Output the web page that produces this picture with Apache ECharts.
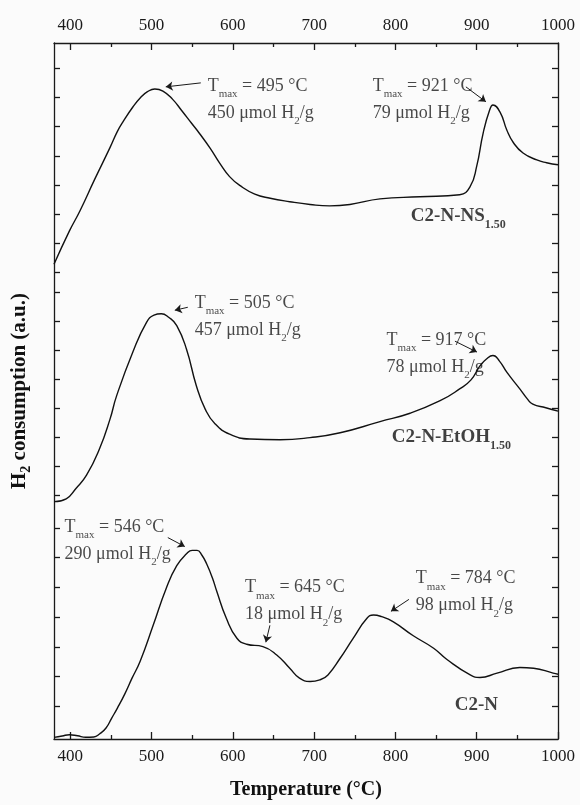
<!DOCTYPE html>
<html>
<head>
<meta charset="utf-8">
<script src="https://cdn.jsdelivr.net/npm/echarts@6/dist/echarts.min.js"></script>
<style>
html,body{margin:0;padding:0;background:#fbfbfb;}
#chart{width:580px;height:805px;}
</style>
</head>
<body>
<div id="chart"></div>
<script>
// ---- data ----
const tNS = [380, 399, 412, 430, 449, 458, 465, 477, 486, 495, 504, 514, 526, 537, 549, 559, 572, 584, 596, 609, 627, 646, 670, 695, 719, 744, 781, 830, 879, 892, 900, 908, 916, 920, 929, 937, 945, 957, 974, 986, 1000];
const vNS = [68.2, 73.0, 75.9, 80.4, 85.0, 87.3, 88.7, 90.8, 92.1, 93.0, 93.4, 93.1, 91.9, 90.3, 88.5, 87.0, 84.9, 82.7, 80.8, 79.5, 78.3, 77.7, 77.2, 76.8, 76.6, 76.8, 77.6, 77.9, 78.2, 79.4, 82.3, 87.1, 90.4, 91.1, 90.0, 87.5, 85.7, 84.2, 83.2, 82.8, 82.5];

const tEt = [380, 395, 407, 420, 436, 449, 457, 477, 494, 503, 512, 521, 531, 543, 555, 566, 578, 596, 621, 658, 695, 732, 781, 818, 855, 879, 893, 904, 912, 920, 928, 937, 953, 962, 969, 985, 1000];
const vEt = [34.1, 34.5, 36.0, 37.9, 41.7, 46.0, 49.3, 55.6, 59.9, 60.9, 61.1, 60.6, 59.4, 56.0, 50.8, 47.4, 45.3, 43.8, 43.1, 43.0, 43.3, 44.0, 45.6, 46.8, 48.6, 50.3, 51.6, 53.6, 54.6, 55.1, 54.3, 52.7, 50.3, 48.9, 48.1, 47.6, 47.1];

const tCN = [380, 390, 399, 409, 419, 429, 436, 444, 451, 458, 467, 476, 486, 502, 518, 531, 543, 550, 556, 562, 568, 575, 580, 592, 605, 617, 637, 654, 670, 682, 695, 707, 717, 732, 748, 765, 773, 783, 797, 822, 847, 863, 892, 904, 925, 953, 970, 994, 1000];
const vCN = [0.24, 0.43, 0.62, 0.46, 0.26, 0.29, 0.72, 1.58, 3.01, 4.44, 6.45, 8.74, 11.17, 16.33, 21.63, 24.9, 26.6, 27.1, 27.1, 26.4, 25.1, 23.1, 21.3, 17.34, 14.47, 13.61, 13.28, 12.08, 10.17, 8.74, 8.27, 8.50, 9.21, 11.60, 14.47, 17.34, 17.81, 17.58, 16.86, 14.83, 13.04, 11.46, 9.21, 8.84, 9.46, 10.27, 10.17, 9.46, 9.31];

const sampleNames = ['C2-N-NS', 'C2-N-EtOH', 'C2-N'];
const sampleSubs = ['1.50', '1.50', ''];

const xMajorTicks = [400, 500, 600, 700, 800, 900, 1000];
const xMinorTicks = [450, 550, 650, 750, 850, 950];
const yTicks = [4.71, 8.98, 13.25, 17.52, 21.79, 26.06, 30.33, 35.01, 39.18, 43.37, 47.54, 51.70, 55.89, 60.06, 64.23, 67.01, 71.20, 75.40, 79.60, 83.80, 88.00, 92.19, 96.39];

const annTmax = [495, 921, 505, 917, 546, 645, 784];
const annUptake = [450, 79, 457, 78, 290, 18, 98];

// ---- layout (positions in data units) ----
const annPos = [[569, 91.9], [772, 91.9], [553, 60.7], [789, 55.4], [393, 28.5], [615, 19.8], [825, 21.1]];
const arrows = [
  [[560.6, 94.27], [517.5, 93.70]],
  [[886.7, 93.70], [911.3, 91.55]],
  [[544.6, 62.03], [528.6, 61.60]],
  [[873.2, 57.16], [900.3, 55.59]],
  [[520.0, 28.94], [540.9, 27.65]],
  [[645.6, 16.33], [640.6, 13.90]],
  [[816.6, 20.06], [794.5, 18.34]]
];
const sampleLabelPos = [[819, 75.2], [795.6, 43.4], [873, 4.9]];

const FONT = '"Liberation Serif", "Times New Roman", serif';
const INK = '#1a1a1a';

function zip(a, b) { return a.map((x, i) => [x, b[i]]); }

const chart = echarts.init(document.getElementById('chart'), null, {renderer: 'canvas'});

const annRich = {
  n: {fontFamily: FONT, fontSize: 18, color: INK, lineHeight: 27},
  s: {fontFamily: FONT, fontSize: 11, color: INK, lineHeight: 12, verticalAlign: 'bottom'}
};
const sampleRich = {
  b: {fontFamily: FONT, fontSize: 19, fontWeight: 'bold', color: '#111', lineHeight: 30},
  bs: {fontFamily: FONT, fontSize: 12, fontWeight: 'bold', color: '#111', lineHeight: 10, verticalAlign: 'bottom'}
};

function xAxisCfg(pos, major) {
  const cfg = {
    type: 'value', min: 380, max: 1000, position: pos,
    axisLine: {show: major, lineStyle: {color: INK, width: 1.3}},
    axisTick: {show: true, inside: true, length: major ? 7 : 4, customValues: major ? xMajorTicks : xMinorTicks, lineStyle: {color: INK, width: 1.3}},
    axisLabel: {show: major, customValues: xMajorTicks, margin: 9, fontSize: 17, fontFamily: FONT, color: INK,
      formatter: function (v) { return String(v); }},
    splitLine: {show: false}
  };
  if (pos === 'bottom' && major) {
    cfg.name = 'Temperature (°C)';
    cfg.nameLocation = 'middle';
    cfg.nameGap = 41;
    cfg.nameTextStyle = {fontFamily: FONT, fontSize: 20, fontWeight: 'bold', color: '#111'};
  }
  return cfg;
}

function yAxisCfg(pos) {
  const cfg = {
    type: 'value', min: 0, max: 100, position: pos,
    axisLine: {show: true, lineStyle: {color: INK, width: 1.3}},
    axisTick: {show: true, inside: true, length: 6, customValues: yTicks, lineStyle: {color: INK, width: 1.3}},
    axisLabel: {show: false},
    splitLine: {show: false}
  };
  if (pos === 'left') {
    cfg.name = '{h|H}{s|2}{h| consumption (a.u.)}';
    cfg.nameLocation = 'middle';
    cfg.nameRotate = 90;
    cfg.nameGap = 21;
    cfg.nameTextStyle = {
      rich: {
        h: {fontFamily: FONT, fontSize: 21, fontWeight: 'bold', color: '#111', lineHeight: 26},
        s: {fontFamily: FONT, fontSize: 14, fontWeight: 'bold', color: '#111', lineHeight: 15, verticalAlign: 'bottom'}
      }
    };
  }
  return cfg;
}

const lineStyle = {color: '#111', width: 1.4};
function curve(name, t, v) {
  return {
    name: name, type: 'line', data: zip(t, v), smooth: 0.5, showSymbol: false, symbol: 'none',
    lineStyle: lineStyle, itemStyle: {color: '#111'}, xAxisIndex: 0, yAxisIndex: 0, silent: true
  };
}

const option = {
  backgroundColor: '#fbfbfb',
  animation: false,
  grid: {left: 54, right: 22, top: 43, bottom: 64, containLabel: false},
  xAxis: [xAxisCfg('bottom', true), xAxisCfg('bottom', false), xAxisCfg('top', true), xAxisCfg('top', false)],
  yAxis: [yAxisCfg('left'), yAxisCfg('right')],
  series: [
    curve(sampleNames[0], tNS, vNS),
    curve(sampleNames[1], tEt, vEt),
    curve(sampleNames[2], tCN, vCN),
    {
      type: 'scatter', xAxisIndex: 0, yAxisIndex: 0, silent: true,
      symbolSize: 0, itemStyle: {color: 'rgba(0,0,0,0)'},
      data: annPos.map(p => p.slice()),
      label: {
        show: true, position: 'right', distance: 0,
        formatter: function (p) {
          const i = p.dataIndex;
          return '{n|T}{s|max}{n| = ' + annTmax[i] + ' °C}\n{n|' + annUptake[i] + ' μmol H}{s|2}{n|/g}';
        },
        rich: annRich
      },
      markLine: {
        silent: true, animation: false,
        symbol: ['none', 'arrow'], symbolSize: 7,
        lineStyle: {color: INK, width: 1, type: 'solid'},
        label: {show: false},
        emphasis: {disabled: true},
        data: arrows.map(a => [{coord: a[0]}, {coord: a[1]}])
      }
    },
    {
      type: 'scatter', xAxisIndex: 0, yAxisIndex: 0, silent: true,
      symbolSize: 0, itemStyle: {color: 'rgba(0,0,0,0)'},
      data: sampleLabelPos.map(p => p.slice()),
      label: {
        show: true, position: 'right', distance: 0,
        formatter: function (p) {
          const i = p.dataIndex;
          return '{b|' + sampleNames[i] + '}' + (sampleSubs[i] ? '{bs|' + sampleSubs[i] + '}' : '');
        },
        rich: sampleRich
      }
    }
  ]
};
chart.setOption(option);
</script>
</body>
</html>
